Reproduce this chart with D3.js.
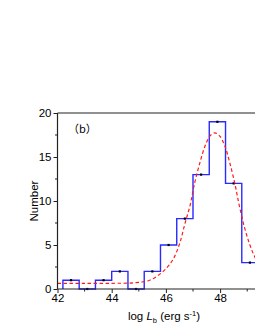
<!DOCTYPE html>
<html>
<head>
<meta charset="utf-8">
<script src="https://cdn.jsdelivr.net/npm/d3@7"></script>
<style>
  html, body { margin: 0; padding: 0; background: #fff; overflow: hidden; }
  svg { display: block; font-family: "Liberation Sans", Arial, sans-serif; }
</style>
</head>
<body>
<div id="chart"></div>
<script>
// histogram bins (left edges, width 0.6) and counts
const binEdges = [42.2, 42.8, 43.4, 44.0, 44.6, 45.2, 45.8, 46.4, 47.0, 47.6, 48.2, 48.8, 49.4];
const counts = [1, 0, 1, 2, 0, 2, 5, 8, 13, 19, 12, 3];

// dashed fit curve
const fitX = [42.0, 43.0, 44.0, 44.8, 45.4, 45.9, 46.25, 46.5, 46.7, 46.9, 47.05, 47.25, 47.45, 47.63, 47.8, 47.98, 48.17, 48.36, 48.55, 48.7, 48.9, 49.1, 49.3, 49.5];
const fitY = [0.65, 0.65, 0.65, 0.7, 1.0, 2.0, 3.3, 5.1, 7.4, 9.6, 11.9, 14.3, 16.3, 17.4, 17.75, 17.4, 16.3, 14.3, 11.9, 9.6, 7.0, 5.0, 3.5, 2.4];

const xTicks = [42, 44, 46, 48];
const xMinor = [43, 45, 47, 49];
const yTicks = [0, 5, 10, 15, 20];
const yMinor = [2.5, 7.5, 12.5, 17.5];

const W = 255, H = 330;
const margin = {left: 57.5, top: 113, bottom: 289};

const svg = d3.select("#chart").append("svg")
    .attr("width", W)
    .attr("height", H);

const x = d3.scaleLinear().domain([42, 50]).range([margin.left, margin.left + 8 * 27.1]);
const y = d3.scaleLinear().domain([0, 20]).range([margin.bottom, margin.top]);

// step outline of histogram
let steps = [[binEdges[0], 0]];
counts.forEach((c, i) => {
    steps.push([binEdges[i], c]);
    steps.push([binEdges[i + 1], c]);
});
steps.push([binEdges[binEdges.length - 1], 0]);

svg.append("path")
    .attr("d", d3.line().x(d => x(d[0])).y(d => y(d[1]))(steps))
    .attr("fill", "none")
    .attr("stroke", "#2a2aff")
    .attr("stroke-width", 1.4);

// bin centre markers
svg.append("g").selectAll("rect")
    .data(counts)
    .join("rect")
    .attr("x", (d, i) => x((binEdges[i] + binEdges[i + 1]) / 2) - 1.1)
    .attr("y", d => y(d) - 1.1)
    .attr("width", 2.2)
    .attr("height", 2.2)
    .attr("fill", "#000");

// fit curve
svg.append("path")
    .attr("d", d3.line().curve(d3.curveCatmullRom).x((d, i) => x(fitX[i])).y(d => y(d))(fitY))
    .attr("fill", "none")
    .attr("stroke", "#ff1a1a")
    .attr("stroke-width", 1.2)
    .attr("stroke-dasharray", "3.5,2.5");

// axes frame
const axisCol = "#222";
svg.append("line").attr("x1", x(42)).attr("x2", W).attr("y1", y(20)).attr("y2", y(20))
    .attr("stroke", axisCol).attr("stroke-width", 1.2);

const xAxis = svg.append("g").attr("transform", `translate(0,${margin.bottom})`)
    .call(d3.axisBottom(x).tickValues(xTicks).tickSize(4).tickPadding(1).tickFormat(d3.format("d")));
xAxis.select(".domain").attr("d", `M${x(42)},0H${W}`).attr("stroke", axisCol).attr("stroke-width", 1.2);
xAxis.selectAll(".tick line").attr("stroke", axisCol);
xAxis.selectAll("text").attr("font-size", 11.5).attr("fill", "#000");
xAxis.append("g").selectAll("line").data(xMinor).join("line")
    .attr("x1", d => x(d)).attr("x2", d => x(d)).attr("y1", 0).attr("y2", 2.5)
    .attr("stroke", axisCol);

const yAxis = svg.append("g").attr("transform", `translate(${margin.left},0)`)
    .call(d3.axisLeft(y).tickValues(yTicks).tickSize(4).tickPadding(2).tickFormat(d3.format("d")));
yAxis.select(".domain").attr("d", `M0,${y(0)}V${y(20)}`).attr("stroke", axisCol).attr("stroke-width", 1.2);
yAxis.selectAll(".tick line").attr("stroke", axisCol);
yAxis.selectAll("text").attr("font-size", 11.5).attr("fill", "#000");
yAxis.append("g").selectAll("line").data(yMinor).join("line")
    .attr("x1", 0).attr("x2", -2.5).attr("y1", d => y(d)).attr("y2", d => y(d))
    .attr("stroke", axisCol);

// axis titles
svg.append("text")
    .attr("transform", `translate(38,${(margin.top + margin.bottom) / 2}) rotate(-90)`)
    .attr("text-anchor", "middle")
    .attr("font-size", 11.5)
    .text("Number");

const xt = svg.append("text")
    .attr("x", 164).attr("y", 320)
    .attr("text-anchor", "middle")
    .attr("font-size", 11.5);
xt.append("tspan").text("log ");
xt.append("tspan").attr("font-style", "italic").text("L");
xt.append("tspan").attr("font-size", 7.5).attr("dy", 2.5).text("b");
xt.append("tspan").attr("dy", -2.5).text(" (erg s");
xt.append("tspan").attr("font-size", 7.5).attr("dy", -4).text("-1");
xt.append("tspan").attr("dy", 4).text(")");

// panel label
svg.append("text")
    .attr("x", 68).attr("y", 133)
    .attr("font-size", 11)
    .attr("font-family", "'Noto Sans CJK SC', sans-serif")
    .text("（b）");
</script>
</body>
</html>
